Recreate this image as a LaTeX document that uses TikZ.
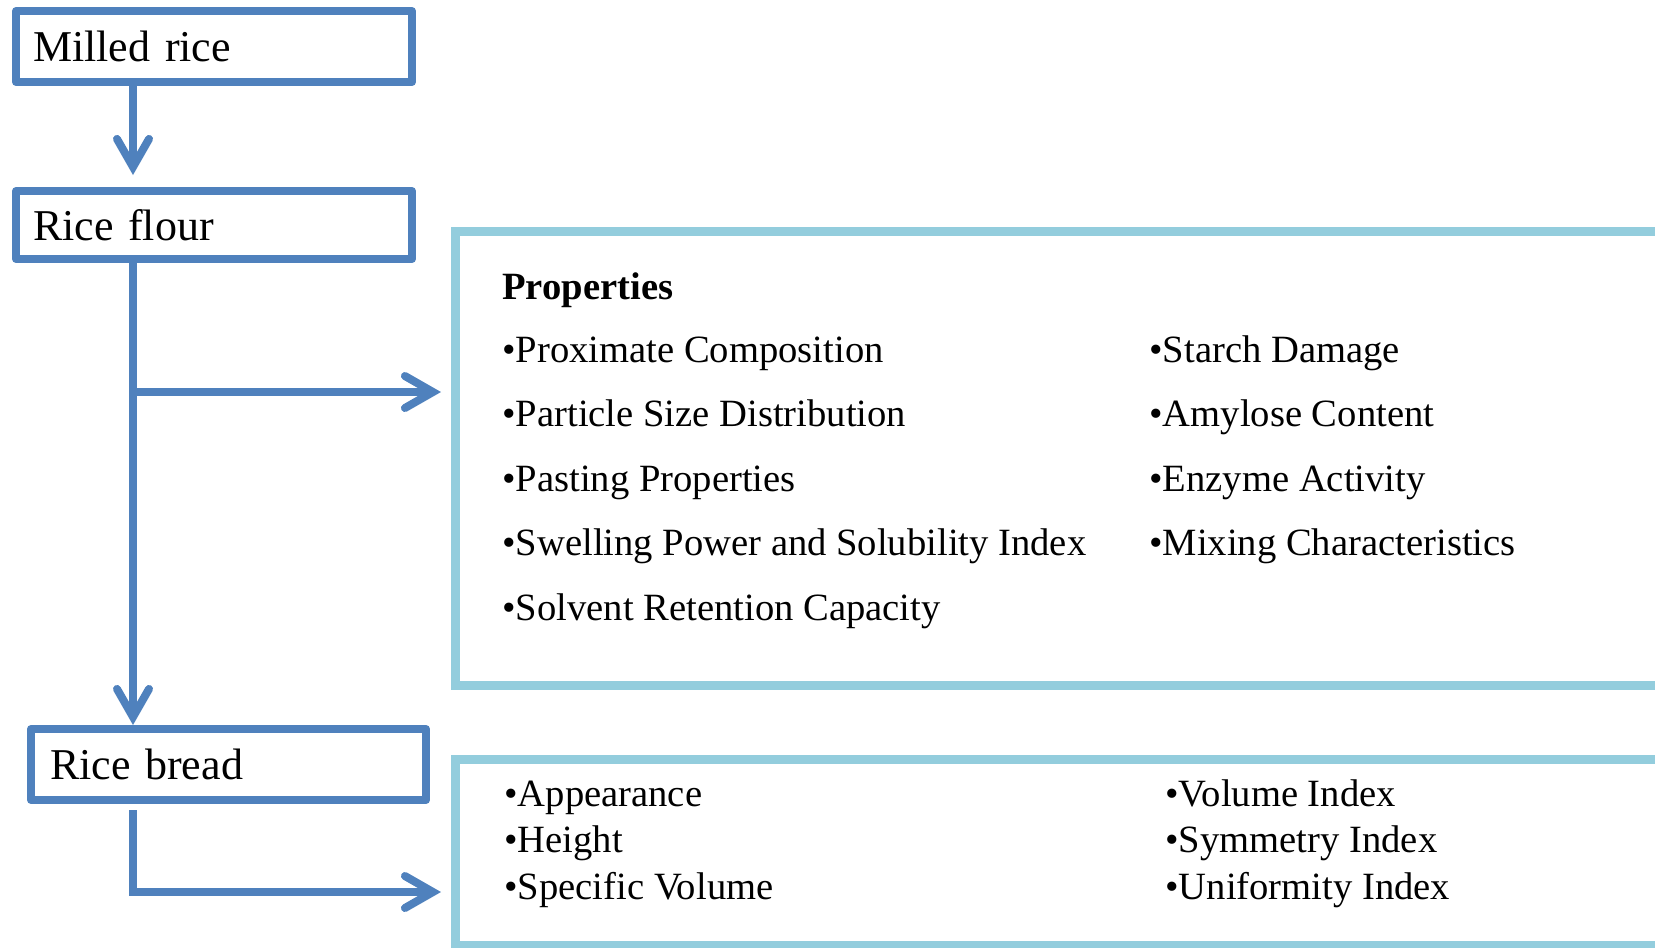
\documentclass[tikz,border=0pt]{standalone}
\usepackage{fontspec}
\setmainfont{Liberation Serif}
\usetikzlibrary{arrows.meta}
\definecolor{boxblue}{HTML}{4F81BD}
\definecolor{aqua}{HTML}{93CDDD}
\tikzset{
  flowbox/.style={draw=boxblue,line width=4pt,line join=round,anchor=north west,inner xsep=8.5pt,text width=181pt,align=left,minimum height=35.5pt,font=\fontsize{22}{26}\selectfont},
  listbox/.style={draw=aqua,line width=4.5pt,anchor=north west,minimum width=625.5pt},
  entry/.style={anchor=base west,inner sep=0pt,font=\fontsize{19.3}{23}\selectfont},
  flow/.style={draw=boxblue,line width=4pt,-{Straight Barb[length=14pt,width=16pt,line cap=round]}}
}

\begin{document}
\begin{tikzpicture}[x=0.5pt,y=-0.5pt]
\clip (0,0) rectangle (1655,948);
\coordinate (spine) at (133,0);

\node[flowbox] (milled) at (12,7) {Milled rice};
\node[flowbox,minimum height=34pt] (flour) at (12,187) {Rice flour};
\node[flowbox,inner xsep=9.5pt,text width=178.5pt] (bread) at (27,725) {Rice bread};

\node[listbox,minimum height=227pt] (props) at (451,227) {};
\node[listbox,minimum height=93pt] (result) at (451,755) {};

\coordinate (fork) at (133,392);
\coordinate (bend) at (133,892);

\draw[flow,shorten >=6pt] (milled.south -| spine) -- (flour.north -| spine);
\draw[flow] (flour.south -| spine) -- (bread.north -| spine);
\draw[flow,shorten >=5pt] (fork) -- (props.west |- fork);
\draw[flow,shorten >=5pt] ([yshift=-3pt]bread.south -| spine) -- (bend) -- (result.west |- bend);

% flour properties
\node[entry,font=\fontsize{19.3}{23}\bfseries] (ptitle) at (502,299) {Properties};
\node[entry] (p1) at (502,362) {•Proximate Composition};
\node[entry] (p2) at (502,426) {•Particle Size Distribution};
\node[entry] (p3) at (502,491) {•Pasting Properties};
\node[entry] (p4) at (502,555) {•Swelling Power and Solubility Index};
\node[entry] (p5) at (502,620) {•Solvent Retention Capacity};
\node[entry] (p6) at (1149,362) {•Starch Damage};
\node[entry] (p7) at (1149,426) {•Amylose Content};
\node[entry] (p8) at (1149,491) {•Enzyme Activity};
\node[entry] (p9) at (1149,555) {•Mixing Characteristics};

% bread quality
\node[entry] (b1) at (504,806) {•Appearance};
\node[entry] (b2) at (504,852) {•Height};
\node[entry] (b3) at (504,899) {•Specific Volume};
\node[entry] (b4) at (1165,806) {•Volume Index};
\node[entry] (b5) at (1165,852) {•Symmetry Index};
\node[entry] (b6) at (1165,899) {•Uniformity Index};
\end{tikzpicture}
\end{document}
